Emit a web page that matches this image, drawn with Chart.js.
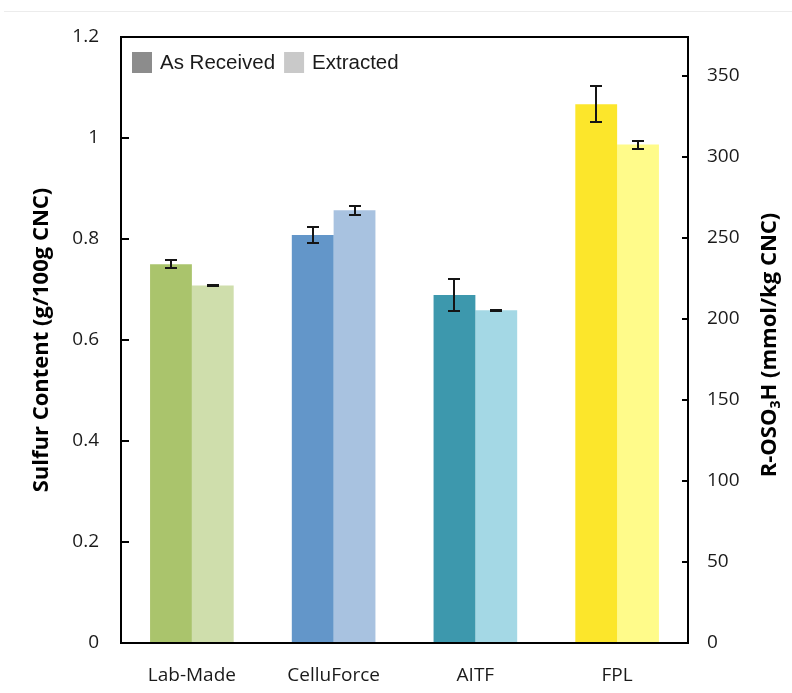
<!DOCTYPE html>
<html>
<head>
<meta charset="utf-8">
<script src="https://cdn.jsdelivr.net/npm/chart.js@4.4.1/dist/chart.umd.min.js"></script>
<style>
  html, body { margin: 0; padding: 0; background: #fff; }
  #wrap { position: relative; width: 792px; height: 693px; }
  #topline { position: absolute; left: 4px; right: 0; top: 11px; height: 1px; background: #ececec; }
</style>
</head>
<body>
<div id="wrap">
  <div id="topline"></div>
  <canvas id="chart" width="792" height="693"></canvas>
</div>
<script>
// ====== Data ======
const categories = ['Lab-Made', 'CelluForce', 'AITF', 'FPL'];
const seriesNames = ['As Received', 'Extracted'];
const asReceived = [0.750, 0.808, 0.689, 1.067];
const asReceivedErr = [0.008, 0.015, 0.032, 0.036];
const extracted = [0.708, 0.857, 0.659, 0.987];
const extractedErr = [0.001, 0.0085, 0.001, 0.008];
const leftTicks = [0, 0.2, 0.4, 0.6, 0.8, 1, 1.2];
const rightTicks = [0, 50, 100, 150, 200, 250, 300, 350];
const rightMax = 374;
const leftTitle = 'Sulfur Content (g/100g CNC)';
const rightTitle = ['R-OSO', '3', 'H (mmol/kg CNC)']; // main, subscript, rest

// colours per bar (dark = as received, light = extracted)
const darkColors = ['#aac46c', '#6396c9', '#3d98ad', '#fce62b'];
const lightColors = ['#cfdeac', '#a8c2e0', '#a4d8e5', '#fffb8a'];
const legendColors = ['#8c8c8c', '#c9c9c9'];

const tickFont = { family: '"Open Sans", sans-serif', size: 19 };
const titleFontCss = 'bold 22px "Open Sans", sans-serif';

// ====== Plugins ======
const errorBars = {
  id: 'errorBars',
  afterDatasetsDraw(chart) {
    const ctx = chart.ctx;
    const y = chart.scales.y;
    const errs = [asReceivedErr, extractedErr];
    ctx.save();
    ctx.strokeStyle = '#151515';
    ctx.lineWidth = 2;
    chart.data.datasets.forEach((ds, di) => {
      chart.getDatasetMeta(di).data.forEach((bar, i) => {
        const v = ds.data[i], e = errs[di][i];
        const yt = Math.round(y.getPixelForValue(v + e));
        const yb = Math.round(y.getPixelForValue(v - e));
        const x = Math.round(bar.x);
        ctx.beginPath();
        ctx.moveTo(x, yt); ctx.lineTo(x, yb);
        ctx.moveTo(x - 6, yt); ctx.lineTo(x + 6, yt);
        ctx.moveTo(x - 6, yb); ctx.lineTo(x + 6, yb);
        ctx.stroke();
      });
    });
    ctx.restore();
  }
};

const frame = {
  id: 'frame',
  afterDraw(chart) {
    const ctx = chart.ctx;
    const a = chart.chartArea;
    ctx.save();
    ctx.strokeStyle = '#000';
    ctx.lineWidth = 2;
    ctx.strokeRect(a.left, a.top, a.right - a.left, a.bottom - a.top);
    // inward tick marks
    ctx.beginPath();
    leftTicks.forEach(t => {
      const py = Math.round(chart.scales.y.getPixelForValue(t));
      ctx.moveTo(a.left, py); ctx.lineTo(a.left + 8, py);
    });
    rightTicks.forEach(t => {
      const py = Math.round(chart.scales.y2.getPixelForValue(t));
      ctx.moveTo(a.right, py); ctx.lineTo(a.right - 6, py);
    });
    ctx.stroke();

    // legend inside the plot area
    ctx.font = '20.5px "Liberation Sans", Arial, sans-serif';
    ctx.textBaseline = 'middle';
    let x = a.left + 11;
    const cy = a.top + 25;
    seriesNames.forEach((name, i) => {
      ctx.fillStyle = legendColors[i];
      ctx.fillRect(x, cy - 10, 20, 21);
      ctx.fillStyle = '#1a1a1a';
      ctx.fillText(name, x + 28, cy + 1);
      x += 28 + ctx.measureText(name).width + 9;
    });

    // axis titles, both reading bottom to top
    ctx.fillStyle = '#000';
    ctx.font = titleFontCss;
    ctx.textAlign = 'center';
    ctx.save();
    ctx.translate(42, 340);
    ctx.rotate(-Math.PI / 2);
    ctx.fillText(leftTitle, 0, 0);
    ctx.restore();

    ctx.save();
    ctx.translate(770, 345);
    ctx.rotate(-Math.PI / 2);
    ctx.textAlign = 'left';
    ctx.font = titleFontCss;
    const w1 = ctx.measureText(rightTitle[0]).width;
    const w3 = ctx.measureText(rightTitle[2]).width;
    ctx.font = 'bold 14px "Open Sans", sans-serif';
    const w2 = ctx.measureText(rightTitle[1]).width;
    let tx = -(w1 + w2 + w3) / 2;
    ctx.font = titleFontCss;
    ctx.fillText(rightTitle[0], tx, 0);
    tx += w1;
    ctx.font = 'bold 14px "Open Sans", sans-serif';
    ctx.fillText(rightTitle[1], tx, 6);
    tx += w2;
    ctx.font = titleFontCss;
    ctx.fillText(rightTitle[2], tx, 0);
    ctx.restore();
    ctx.restore();
  }
};

// ====== Chart ======
new Chart(document.getElementById('chart'), {
  type: 'bar',
  data: {
    labels: categories,
    datasets: [
      { label: seriesNames[0], data: asReceived, backgroundColor: darkColors, yAxisID: 'y' },
      { label: seriesNames[1], data: extracted, backgroundColor: lightColors, yAxisID: 'y' }
    ]
  },
  options: {
    responsive: false,
    animation: false,
    layout: { padding: { top: 37, left: 0, right: 0, bottom: 0 } },
    datasets: { bar: { categoryPercentage: 0.59, barPercentage: 1.0 } },
    plugins: {
      legend: { display: false },
      tooltip: { enabled: false }
    },
    scales: {
      x: {
        grid: { display: false, drawTicks: false },
        border: { display: false },
        ticks: { font: tickFont, color: '#1a1a1a', padding: 21 },
        afterFit(s) { s.height = 50; }
      },
      y: {
        position: 'left',
        min: 0, max: 1.2,
        grid: { display: false, drawTicks: false },
        border: { display: false },
        afterBuildTicks(s) { s.ticks = leftTicks.map(v => ({ value: v })); },
        ticks: { font: tickFont, color: '#1a1a1a', padding: 22,
          callback: v => String(Math.round(v * 10) / 10) },
        afterFit(s) { s.width = 121; }
      },
      y2: {
        position: 'right',
        min: 0, max: rightMax,
        grid: { display: false, drawTicks: false },
        border: { display: false },
        afterBuildTicks(s) { s.ticks = rightTicks.map(v => ({ value: v })); },
        ticks: { font: tickFont, color: '#1a1a1a', padding: 19 },
        afterFit(s) { s.width = 104; }
      }
    }
  },
  plugins: [errorBars, frame]
});
</script>
</body>
</html>
